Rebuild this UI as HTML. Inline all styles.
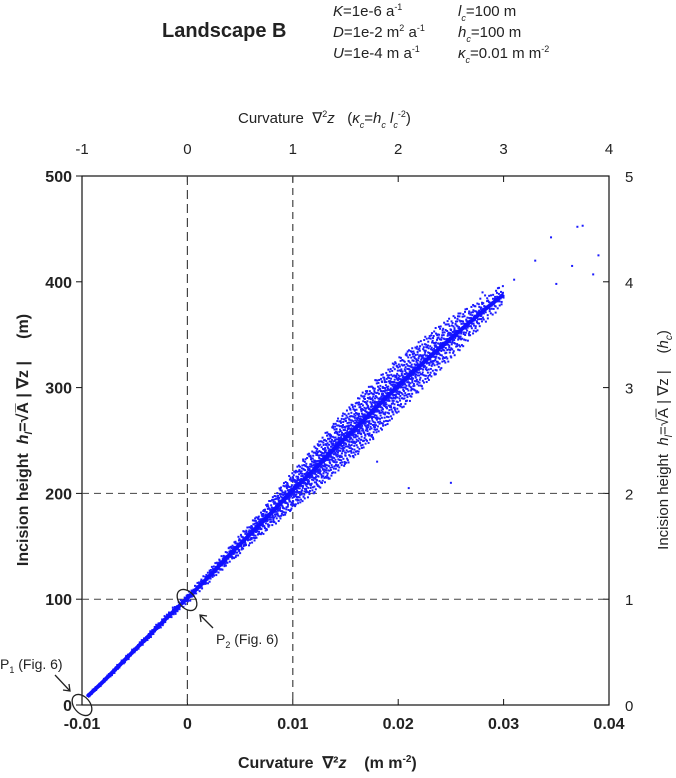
<!DOCTYPE html>
<html><head><meta charset="utf-8"><style>
body{margin:0;background:#fff;}
svg{font-family:"Liberation Sans",Arial,sans-serif;}
text{white-space:pre;}
</style></head><body>
<svg id="chart" width="676" height="773" xmlns="http://www.w3.org/2000/svg" xml:space="preserve">
<g font-size="15" fill="#222">
<text x="162" y="37" font-size="20" font-weight="bold">Landscape B</text>
<text x="333" y="16"><tspan font-style="italic">K</tspan>=1e-6 a<tspan font-size="9" dy="-6">-1</tspan></text>
<text x="333" y="37"><tspan font-style="italic">D</tspan>=1e-2 m<tspan font-size="9" dy="-6">2</tspan><tspan dy="6"> a</tspan><tspan font-size="9" dy="-6">-1</tspan></text>
<text x="333" y="58"><tspan font-style="italic">U</tspan>=1e-4 m a<tspan font-size="9" dy="-6">-1</tspan></text>
<text x="458" y="16"><tspan font-style="italic">l</tspan><tspan font-size="9" font-style="italic" dy="5">c</tspan><tspan dy="-5">=100 m</tspan></text>
<text x="458" y="37"><tspan font-style="italic">h</tspan><tspan font-size="9" font-style="italic" dy="5">c</tspan><tspan dy="-5">=100 m</tspan></text>
<text x="458" y="58"><tspan font-style="italic">κ</tspan><tspan font-size="9" font-style="italic" dy="5">c</tspan><tspan dy="-5">=0.01 m m</tspan><tspan font-size="9" dy="-6">-2</tspan></text>
</g>
<text x="238" y="123" font-size="15" fill="#222">Curvature  ∇<tspan font-size="9" dy="-6">2</tspan><tspan dy="6" font-style="italic">z</tspan>   (<tspan font-style="italic">κ</tspan><tspan font-size="9" font-style="italic" dy="5">c</tspan><tspan dy="-5">=</tspan><tspan font-style="italic">h</tspan><tspan font-size="9" font-style="italic" dy="5">c</tspan><tspan dy="-5" font-style="italic"> l</tspan><tspan font-size="9" font-style="italic" dy="5">c</tspan><tspan font-size="9" dy="-11">-2</tspan><tspan dy="6">)</tspan></text>
<g id="axes"></g>
<g id="grid"></g>
<g id="points"></g>
<g stroke="#222" fill="none" stroke-width="1.3">
<ellipse cx="82" cy="705" rx="8" ry="12" transform="rotate(-40 82 705)"/>
<ellipse cx="187" cy="600" rx="8" ry="12" transform="rotate(-40 187 600)"/>
<line x1="55" y1="675" x2="70" y2="691"/><polyline points="63,690 70,691 69,684"/>
<line x1="213" y1="628" x2="200" y2="615"/><polyline points="201,622 200,615 207,616"/>
</g>
<text x="0" y="669" font-size="14" fill="#222">P<tspan font-size="9" dy="4">1</tspan><tspan dy="-4"> (Fig. 6)</tspan></text>
<text x="216" y="644" font-size="14" fill="#222">P<tspan font-size="9" dy="4">2</tspan><tspan dy="-4"> (Fig. 6)</tspan></text>
<text x="238" y="768" font-size="16" font-weight="bold" fill="#222">Curvature  ∇²<tspan font-style="italic">z</tspan>    (m m<tspan font-size="10" dy="-6">-2</tspan><tspan dy="6">)</tspan></text>
<text transform="translate(28,440) rotate(-90)" text-anchor="middle" font-size="16" font-weight="bold" fill="#222">Incision height  <tspan font-style="italic">h</tspan><tspan font-size="10" font-style="italic" dy="4">l</tspan><tspan dy="-4">=√A̅ | ∇z |     (m)</tspan></text>
<text transform="translate(668,440) rotate(-90)" text-anchor="middle" font-size="15" fill="#222">Incision height  <tspan font-style="italic">h</tspan><tspan font-size="10" font-style="italic" dy="4">l</tspan><tspan dy="-4">=√A̅ | ∇z |    (</tspan><tspan font-style="italic">h</tspan><tspan font-size="10" font-style="italic" dy="4">c</tspan><tspan dy="-4">)</tspan></text>
</svg>
<script>
const xTicks=[-0.01,0,0.01,0.02,0.03,0.04];
const xTickLabels=["-0.01","0","0.01","0.02","0.03","0.04"];
const topTicks=[-1,0,1,2,3,4];
const yTicks=[0,100,200,300,400,500];
const y2Ticks=[0,1,2,3,4,5];
const binCurv=[-0.0095,-0.008,-0.006,-0.004,-0.002,0,0.002,0.004,0.006,0.008,0.010,0.012,0.014,0.016,0.018,0.020,0.022,0.024,0.026,0.028,0.030];
const binHeight=[8,22,42,62,82,101,121,142,162,182,203,222,243,262,282,302,320,338,355,372,388];
const binSpread=[2,2,3,3,4,5,6,8,10,14,18,22,25,27,27,26,24,22,18,14,10];
const binCount=[40,60,60,60,60,80,100,140,180,220,260,300,320,320,300,260,220,180,130,80,40];
const outCurv=[0.0375,0.0370,0.0385,0.0345,0.033,0.0365,0.039,0.031,0.025,0.028,0.012,0.018,0.021,0.035];
const outHeight=[453,452,407,442,420,415,425,402,210,390,220,230,205,398];
const X0=82,X1=609,Y0=705,Y1=176;
function xs(c){return X0+(c+0.01)/0.05*(X1-X0);}
function ys(h){return Y0-h/500*(Y0-Y1);}
const NS="http://www.w3.org/2000/svg";
function mk(tag,attrs,parent){const e=document.createElementNS(NS,tag);for(const k in attrs)e.setAttribute(k,attrs[k]);parent.appendChild(e);return e;}
function halton(i,b){let f=1,r=0;while(i>0){f/=b;r+=f*(i%b);i=Math.floor(i/b);}return r;}
const axes=document.getElementById('axes'),grid=document.getElementById('grid'),pts=document.getElementById('points');
[0,0.01].forEach(c=>{const l=mk('line',{x1:xs(c),x2:xs(c),y1:Y1,y2:Y0,stroke:'#444','stroke-width':1.2,'stroke-dasharray':c===0?'9,5':'7,5'},grid);

});
[100,200].forEach(h=>{const l=mk('line',{x1:X0,x2:X1,y1:ys(h),y2:ys(h),stroke:'#444','stroke-width':1,'stroke-dasharray':'7,5'},grid);

});
const fr=mk('rect',{x:X0,y:Y1,width:X1-X0,height:Y0-Y1,fill:'none',stroke:'#111','stroke-width':1.2},axes);


xTicks.forEach((c,i)=>{const x=xs(c);
mk('line',{x1:x,x2:x,y1:Y0,y2:Y0-6,stroke:'#111'},axes);
const t=mk('text',{x:x,y:Y0+24,'text-anchor':'middle','font-size':16,'font-weight':'bold',fill:'#222'},axes);t.textContent=xTickLabels[i];

});
topTicks.forEach(v=>{const x=xs(v*0.01);
mk('line',{x1:x,x2:x,y1:Y1,y2:Y1+6,stroke:'#111'},axes);
const t=mk('text',{x:x,y:Y1-22,'text-anchor':'middle','font-size':15,fill:'#222'},axes);t.textContent=v;

});
yTicks.forEach(h=>{const y=ys(h);
mk('line',{x1:X0,x2:X0-6,y1:y,y2:y,stroke:'#111'},axes);
const t=mk('text',{x:X0-10,y:y+6,'text-anchor':'end','font-size':16,'font-weight':'bold',fill:'#222'},axes);t.textContent=h;

});
y2Ticks.forEach(v=>{const y=ys(v*100);
mk('line',{x1:X1,x2:X1-6,y1:y,y2:y,stroke:'#111'},axes);
const t=mk('text',{x:X1+16,y:y+6,'font-size':15,fill:'#222'},axes);t.textContent=v;

});
let k=0;
for(let i=0;i<binCurv.length-1;i++){
 const n=binCount[i];
 for(let j=0;j<n;j++){k++;
  const f=halton(k,2), r=halton(k,3)*2-1;
  const c=binCurv[i]+(binCurv[i+1]-binCurv[i])*f;
  const base=binHeight[i]+(binHeight[i+1]-binHeight[i])*f;
  const sp=binSpread[i]+(binSpread[i+1]-binSpread[i])*f;
  const h=base+sp*r*Math.abs(r);
  const p=mk('rect',{x:xs(c)-1,y:ys(h)-1,width:2,height:2,fill:'#1a1aff'},pts);
  
  
 }}
const core=mk('polyline',{points:binCurv.map((c,i)=>xs(c)+','+ys(binHeight[i])).join(' '),fill:'none',stroke:'#1010ff','stroke-width':4},pts);


outCurv.forEach((c,i)=>{const p=mk('rect',{x:xs(c)-1,y:ys(outHeight[i])-1,width:2,height:2,fill:'#1a1aff'},pts);

});
</script>
</body></html>
